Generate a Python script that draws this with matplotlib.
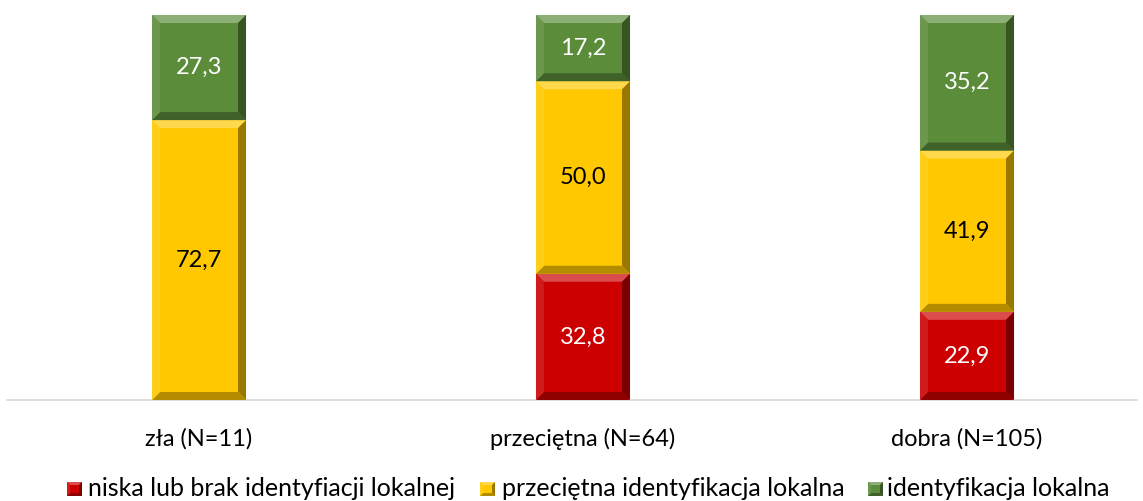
import matplotlib
matplotlib.use("Agg")
import matplotlib.pyplot as plt
from matplotlib.patches import Polygon, Rectangle
from matplotlib.transforms import IdentityTransform
from matplotlib.colors import to_rgb
import numpy as np

categories = ["zła (N=11)", "przeciętna (N=64)", "dobra (N=105)"]
series_names = ["niska lub brak identyfiacji lokalnej", "przeciętna identyfikacja lokalna", "identyfikacja lokalna"]
niska = [0.0, 32.8, 22.9]
przecietna = [72.7, 50.0, 41.9]
identyfikacja = [27.3, 17.2, 35.2]
series = [niska, przecietna, identyfikacja]
colors = ["#CC0000", "#FFC800", "#5B8C3A"]
text_colors = ["white", "black", "white"]

plt.rcParams['font.family'] = ['Lato', 'DejaVu Sans']
FS = 17
LFS = 18

W, H = 1143, 501
dpi = 100
fig = plt.figure(figsize=(W / dpi, H / dpi), dpi=dpi)
left_px, right_px, top_px, bot_px = 7, 1137, 15, 400
ax = fig.add_axes([left_px / W, (H - bot_px) / H, (right_px - left_px) / W, (bot_px - top_px) / H])
x = np.arange(len(categories))
ax.set_xlim(-0.5, -0.5 + (right_px - left_px) / 384.0)
ax.set_ylim(0, 100)

def mix(c, t, f):
    c = np.array(to_rgb(c)); t = np.array(to_rgb(t))
    return tuple(c * (1 - f) + t * f)

bw = 0.245
bottom = np.zeros(len(categories))
bars_all = []
for vals, col, tc in zip(series, colors, text_colors):
    vals = np.array(vals)
    bars = ax.bar(x, vals, bw, bottom=bottom, color=col, edgecolor="none", zorder=2)
    bars_all.append((bars, col))
    for xi, v, b in zip(x, vals, bottom):
        if v > 0:
            ax.text(xi, b + v / 2, f"{v:.1f}".replace(".", ","), ha="center", va="center",
                    color=tc, fontsize=FS, zorder=5)
    bottom = bottom + vals

def bevel(x0, y0, x1, y1, col, d, zorder=3):
    polys = [
        ([(x0, y1), (x1, y1), (x1 - d, y1 - d), (x0 + d, y1 - d)], mix(col, "white", 0.30)),
        ([(x0, y0), (x1, y0), (x1 - d, y0 + d), (x0 + d, y0 + d)], mix(col, "black", 0.30)),
        ([(x0, y0), (x0, y1), (x0 + d, y1 - d), (x0 + d, y0 + d)], mix(col, "white", 0.10)),
        ([(x1, y0), (x1, y1), (x1 - d, y1 - d), (x1 - d, y0 + d)], mix(col, "black", 0.40)),
    ]
    for pts, c in polys:
        fig.patches.append(Polygon(pts, closed=True, facecolor=c, edgecolor="none",
                                   transform=IdentityTransform(), zorder=zorder))

for bars, col in bars_all:
    for r in bars:
        if r.get_height() <= 0:
            continue
        (x0, y0), (x1, y1) = ax.transData.transform(
            [(r.get_x(), r.get_y()), (r.get_x() + r.get_width(), r.get_y() + r.get_height())])
        bevel(x0, y0, x1, y1, col, 8)

for s in ["top", "right", "left"]:
    ax.spines[s].set_visible(False)
ax.spines["bottom"].set_color("#D9D9D9")
ax.spines["bottom"].set_linewidth(1.2)
ax.set_yticks([])
ax.set_xticks(x)
ax.set_xticklabels(categories, fontsize=FS)
ax.tick_params(axis="x", length=0, pad=20)

# legend
leg_y = H - 488
leg_items = [(67, 88, 0), (480, 502, 1), (868, 887, 2)]
for mx, tx, i in leg_items:
    w, h = 15, 14
    x0, y0 = mx, leg_y - h / 2 - 1
    fig.patches.append(Rectangle((x0, y0), w, h, facecolor=colors[i], edgecolor="none",
                                 transform=IdentityTransform(), zorder=2))
    bevel(x0, y0, x0 + w, y0 + h, colors[i], 3)
    fig.text(tx / W, leg_y / H, series_names[i], fontsize=LFS, va="center", ha="left")

fig.savefig("out.png", dpi=dpi)
